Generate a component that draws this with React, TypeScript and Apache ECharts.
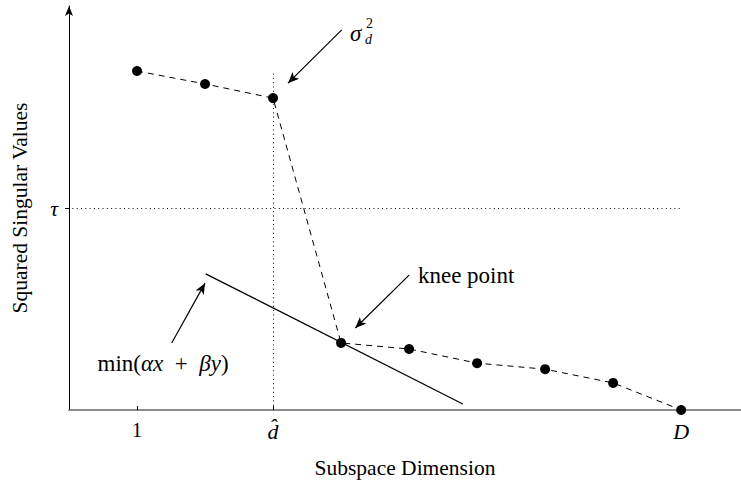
import React, { useEffect, useRef } from 'react';
import * as echarts from 'echarts';

// ---- data ----
const dims = [1, 2, 3, 4, 5, 6, 7, 8, 9];
const sqSingular = [8.39, 8.07, 7.72, 1.66, 1.51, 1.16, 1.01, 0.67, 0];
const xTickValues = [1, 3, 9];
const xTickLabels = ['1', 'd\u0302', 'D'];
const yTickValues = [5];
const yTickLabels = ['τ'];
const tau = 5;
const tauEndX = 9;
const dHat = 3;
const dHatTop = 8.37;
const minLineX = [2.01, 5.79];
const minLineY = [3.37, 0.15];
// annotation arrows (data coordinates): [fromX, fromY, toX, toY]
const arrowSigma = [4.01, 9.41, 3.22, 8.09];
const arrowKnee = [5.0, 3.34, 4.21, 2.03];
const arrowMin = [1.51, 1.66, 2.0, 3.14];
// annotation label anchors (data coordinates)
const sigmaLabelAt = [4.13, 9.33];
const kneeLabelAt = [5.13, 3.34];
const minLabelAt = [0.42, 1.14];

const SERIF = "'Liberation Serif', serif";

export default function App() {
  const ref = useRef<HTMLDivElement>(null);
  useEffect(() => {
    if (!ref.current) return;
    const chart = echarts.init(ref.current, null, { renderer: 'svg' });
    const arrowPair = (a: number[]) => [{ coord: [a[0], a[1]] }, { coord: [a[2], a[3]] }];
    chart.setOption({
      animation: false,
      grid: { left: 69, right: 0, top: 6, bottom: 75 },
      xAxis: {
        type: 'value',
        min: 0,
        max: 9.88,
        name: 'Subspace Dimension',
        nameLocation: 'middle',
        nameGap: 47,
        nameTextStyle: { fontFamily: SERIF, fontSize: 21.5, color: '#000' },
        axisLine: { lineStyle: { color: '#666', width: 1.5 } },
        axisTick: { show: true, inside: true, length: 4, customValues: xTickValues, lineStyle: { color: '#000' } },
        axisLabel: {
          customValues: xTickValues,
          margin: 10,
          formatter: (v: number) => {
            const i = xTickValues.indexOf(v);
            if (i === 0) return '{r|' + xTickLabels[i] + '}';
            return i >= 0 ? '{i|' + xTickLabels[i] + '}' : '';
          },
          rich: {
            r: { fontFamily: SERIF, fontSize: 20, color: '#000' },
            i: { fontFamily: SERIF, fontSize: 22, fontStyle: 'italic', color: '#000' },
          },
        },
        splitLine: { show: false },
      },
      yAxis: {
        type: 'value',
        min: 0,
        max: 10,
        name: 'Squared Singular Values',
        nameLocation: 'middle',
        nameGap: 38,
        nameTextStyle: { fontFamily: SERIF, fontSize: 21.5, color: '#000' },
        axisLine: { show: true, symbol: ['none', 'arrow'], symbolSize: [6, 10], lineStyle: { color: '#000', width: 1 } },
        axisTick: { show: true, inside: false, length: 4, customValues: yTickValues, lineStyle: { color: '#000' } },
        axisLabel: {
          customValues: yTickValues,
          margin: 11,
          formatter: (v: number) => {
            const i = yTickValues.indexOf(v);
            return i >= 0 ? yTickLabels[i] : '';
          },
          fontFamily: SERIF,
          fontStyle: 'italic',
          fontSize: 22,
          color: '#000',
        },
        splitLine: { show: false },
      },
      series: [
        {
          type: 'line',
          data: dims.map((d, i) => [d, sqSingular[i]]),
          symbol: 'circle',
          symbolSize: 10,
          itemStyle: { color: '#000' },
          lineStyle: { color: '#000', width: 1, type: [6, 5] },
          silent: true,
          z: 5,
        },
        {
          type: 'line',
          data: minLineX.map((x, i) => [x, minLineY[i]]),
          symbol: 'none',
          lineStyle: { color: '#000', width: 1.2, type: 'solid' },
          silent: true,
          z: 3,
          markLine: {
            silent: true,
            symbol: ['none', 'none'],
            label: { show: false },
            lineStyle: { color: '#000', width: 1, type: [1, 3.3] },
            data: [
              [{ coord: [0.05, tau] }, { coord: [tauEndX, tau] }],
              [{ coord: [dHat, 0] }, { coord: [dHat, dHatTop] }],
            ],
          },
        },
        {
          type: 'line',
          data: [],
          silent: true,
          markLine: {
            silent: true,
            symbol: ['none', 'arrow'],
            symbolSize: [7, 11],
            label: { show: false },
            lineStyle: { color: '#000', width: 1.2, type: 'solid' },
            itemStyle: { color: '#000' },
            data: [arrowPair(arrowSigma), arrowPair(arrowKnee), arrowPair(arrowMin)],
          },
        },
      ],
    });

    const px = (p: number[]) => chart.convertToPixel({ gridIndex: 0 }, p) as number[];
    const s = px(sigmaLabelAt);
    const k = px(kneeLabelAt);
    const m = px(minLabelAt);
    const txt = (x: number, y: number, text: string, size: number, italic: boolean, align = 'left') => ({
      type: 'text',
      x,
      y,
      silent: true,
      style: {
        text,
        fontFamily: SERIF,
        fontSize: size,
        fontStyle: italic ? 'italic' : 'normal',
        fill: '#000',
        align,
        verticalAlign: 'middle',
        textAlign: align,
        textVerticalAlign: 'middle',
      },
    });
    chart.setOption({
      graphic: [
        txt(s[0], s[1], 'σ', 23, true),
        txt(s[0] + 16, s[1] - 10, '2', 14, false),
        txt(s[0] + 15, s[1] + 6, 'd', 14, true),
        txt(k[0], k[1], 'knee point', 23, false),
        {
          type: 'text',
          x: m[0],
          y: m[1],
          silent: true,
          style: {
            text: '{r|min(}{i|αx}{r|\u2002+\u2002}{i|βy}{r|)}',
            align: 'left',
            verticalAlign: 'middle',
            textAlign: 'left',
            textVerticalAlign: 'middle',
            rich: {
              r: { fontFamily: SERIF, fontSize: 23, fill: '#000', color: '#000' },
              i: { fontFamily: SERIF, fontSize: 23, fontStyle: 'italic', fill: '#000', color: '#000' },
            },
          },
        },
      ],
    });
    return () => chart.dispose();
  }, []);
  return (
    <div
      ref={ref}
      style={{ position: 'absolute', left: 0, top: 0, width: 741, height: 485, background: '#fff' }}
    />
  );
}
